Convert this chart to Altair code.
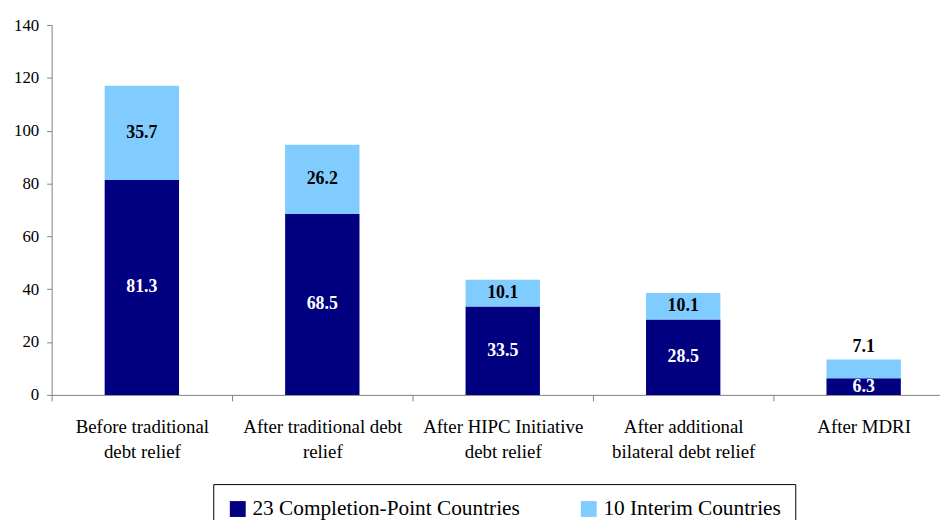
import altair as alt
import pandas as pd

categories = [
    "Before traditional\ndebt relief",
    "After traditional debt\nrelief",
    "After HIPC Initiative\ndebt relief",
    "After additional\nbilateral debt relief",
    "After MDRI",
]
completion = [81.3, 68.5, 33.5, 28.5, 6.3]
interim = [35.7, 26.2, 10.1, 10.1, 7.1]
series_names = ["23 Completion-Point Countries", "10 Interim Countries"]
colors = ["#000080", "#80CCFF"]
y_ticks = [0, 20, 40, 60, 80, 100, 120, 140]

rows = []
for i, c in enumerate(categories):
    rows.append(dict(category=c, series=series_names[0], value=completion[i], order=0))
    rows.append(dict(category=c, series=series_names[1], value=interim[i], order=1))
df = pd.DataFrame(rows)

FONT = "Liberation Serif"
AXIS_GRAY = "#808080"

x_enc = alt.X(
    "category:N",
    sort=categories,
    scale=alt.Scale(range=[0, 910], paddingInner=0, paddingOuter=0),
    axis=alt.Axis(
        title=None,
        labelAngle=0,
        tickBand="extent",
        labelExpr="split(datum.label, '\\n')",
        labelFont=FONT,
        labelFontSize=19,
        labelLineHeight=25,
        labelPadding=17,
        labelColor="#000000",
        labelLimit=400,
        tickSize=6,
        domainColor=AXIS_GRAY,
        tickColor=AXIS_GRAY,
    ),
)

y_scale = alt.Scale(domain=[0, 140], nice=False)

base = alt.Chart(df).transform_stack(
    stack="value",
    groupby=["category"],
    sort=[alt.SortField("order")],
    as_=["y0", "y1"],
).transform_calculate(mid="(datum.y0 + datum.y1) / 2")

bars = base.mark_bar(size=75).encode(
    x=x_enc,
    y=alt.Y(
        "y1:Q",
        scale=y_scale,
        axis=alt.Axis(
            title=None,
            values=y_ticks,
            grid=False,
            labelFont=FONT,
            labelFontSize=17,
            labelColor="#000000",
            labelPadding=8,
            tickSize=5,
            domainColor=AXIS_GRAY,
            tickColor=AXIS_GRAY,
        ),
    ),
    y2="y0:Q",
    color=alt.Color(
        "series:N",
        scale=alt.Scale(domain=series_names, range=colors),
        legend=alt.Legend(
            title=None,
            orient="none",
            legendX=163,
            legendY=463,
            direction="horizontal",
            strokeColor="#000000",
            fillColor="#ffffff",
            padding=14,
            symbolType="square",
            symbolSize=256,
            symbolStrokeWidth=0,
            labelFont=FONT,
            labelFontSize=21.5,
            labelColor="#000000",
            labelOffset=4,
            labelLimit=400,
            columnPadding=58,
        ),
    ),
)

text_color = alt.condition(
    "datum.order == 0", alt.value("#ffffff"), alt.value("#000000")
)

labels_mid = base.transform_filter(
    "datum.order == 0 || datum.value >= 8"
).mark_text(
    font=FONT, fontWeight="bold", fontSize=18, baseline="middle"
).encode(
    x=x_enc,
    y=alt.Y("mid:Q", scale=y_scale),
    text=alt.Text("value:Q", format=".1f"),
    color=text_color,
)

labels_above = base.transform_filter(
    "datum.order == 1 && datum.value < 8"
).mark_text(
    font=FONT, fontWeight="bold", fontSize=18, baseline="middle", dy=-13
).encode(
    x=x_enc,
    y=alt.Y("y1:Q", scale=y_scale),
    text=alt.Text("value:Q", format=".1f"),
    color=alt.value("#000000"),
)

chart = (
    alt.layer(bars, labels_mid, labels_above)
    .properties(
        width=896,
        height=373,
        autosize=alt.AutoSizeParams(type="none"),
        padding={"left": 44, "top": 15, "right": 0, "bottom": 124},
        background="#ffffff",
    )
    .configure_view(stroke=None)
)

chart.save("out.html", embed_options={"renderer": "svg", "actions": False})
